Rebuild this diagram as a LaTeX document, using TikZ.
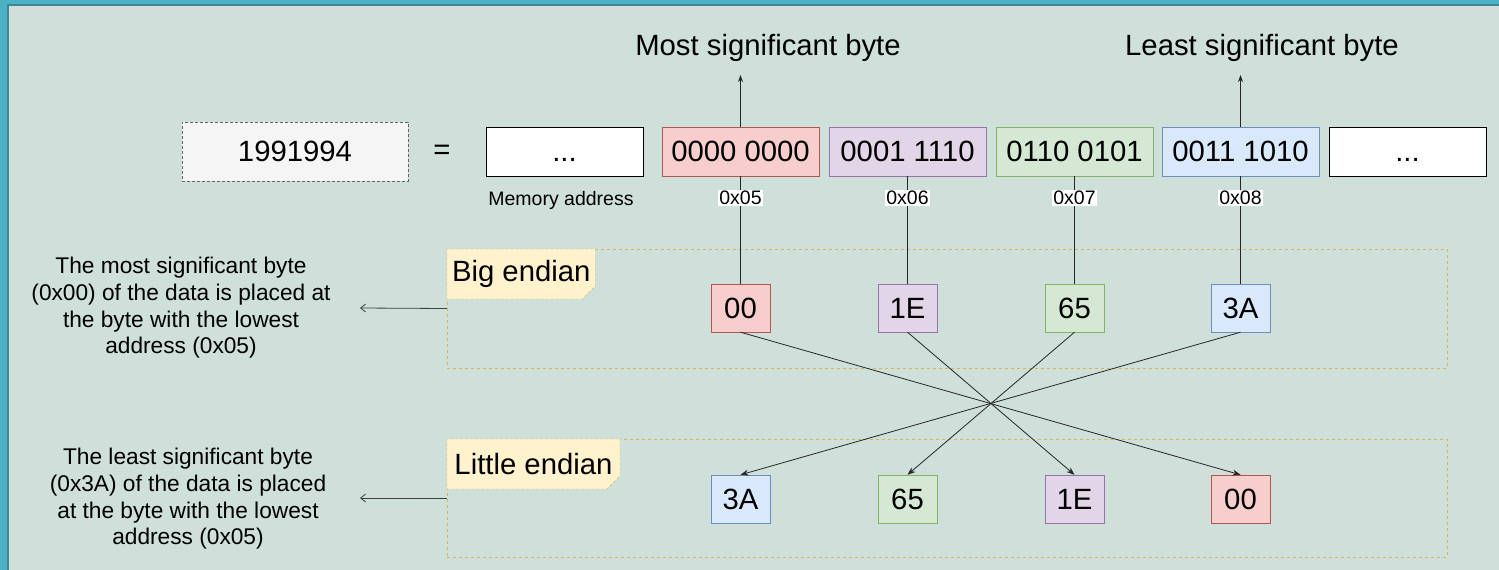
\documentclass[tikz,border=0pt]{standalone}
\usepackage{fontspec}
\setmainfont{Liberation Sans}
\usetikzlibrary{arrows.meta,shapes.misc}
\definecolor{bg}{HTML}{CFDFD9}
\definecolor{frame}{HTML}{4DB1C6}
\definecolor{frameedge}{HTML}{3E8797}
\definecolor{redfill}{HTML}{F8CECC}\definecolor{redline}{HTML}{B85450}
\definecolor{purfill}{HTML}{E1D5E7}\definecolor{purline}{HTML}{9673A6}
\definecolor{grnfill}{HTML}{D5E8D4}\definecolor{grnline}{HTML}{82B366}
\definecolor{blufill}{HTML}{DAE8FC}\definecolor{bluline}{HTML}{6C8EBF}
\definecolor{yelfill}{HTML}{FFF2CC}\definecolor{yelline}{HTML}{D6B656}
\begin{document}
\begin{tikzpicture}[x=1pt,y=-1pt,
  big/.style={font=\fontsize{29.3}{34}\selectfont},
  bytebox/.style={draw, minimum width=157pt, minimum height=49pt, inner sep=0pt, big},
  cell/.style={draw, minimum width=59pt, minimum height=48pt, inner sep=0pt, big},
  rd/.style={fill=redfill, draw=redline},
  pu/.style={fill=purfill, draw=purline},
  gr/.style={fill=grnfill, draw=grnline},
  bl/.style={fill=blufill, draw=bluline},
  wh/.style={fill=white, draw=black},
  addr/.style={fill=white, inner sep=1pt, font=\fontsize{19.5}{22}\selectfont},
  region/.style={draw=yelline, dash pattern=on 3pt off 3pt, minimum width=1000pt, inner sep=0pt},
  tag/.style={chamfered rectangle, chamfered rectangle corners=south east,
    chamfered rectangle xsep=5pt, chamfered rectangle ysep=8pt,
    fill=yelfill, draw=yelline, dash pattern=on 3pt off 2pt, minimum height=50pt,
    inner sep=0pt, anchor=north west, big},
  note/.style={align=center, font=\fontsize{22.7}{26.6}\selectfont},
  link/.style={draw=black!85, line width=0.8pt},
  cross/.style={draw=black!85, line width=0.8pt, -{Stealth[length=8pt,width=6pt]}},
  up/.style={draw=black!85, line width=0.8pt, -{Stealth[length=7pt,width=5pt]}},
  back/.style={draw=black!75, line width=0.8pt, -{Straight Barb[length=5pt,width=8pt]}}
]
\useasboundingbox (0,0) rectangle (1499,570);
% frame and canvas
\fill[frame] (0,0) rectangle (1499,570);
\fill[frameedge] (7,4) rectangle (1499,570);
\fill[bg] (8.5,6) rectangle (1499,570);

% value and memory row
\node[draw=black!60, fill=black!4, dash pattern=on 3pt off 2pt, minimum width=226pt,
  minimum height=59pt, big] (val) at (295,151.5) {1991994};
\node[big] (eq) at (442,152) {=};
\node[bytebox, wh] (m0) at (564.5,151.5) {\vphantom{0}...};
\node[bytebox, rd] (m1) at (740.5,151.5) {0000 0000};
\node[bytebox, pu] (m2) at (907.5,151.5) {0001 1110};
\node[bytebox, gr] (m3) at (1074.5,151.5) {0110 0101};
\node[bytebox, bl] (m4) at (1240.5,151.5) {0011 1010};
\node[bytebox, wh] (m5) at (1407.5,151.5) {\vphantom{0}...};
\node[font=\fontsize{19.5}{22}\selectfont] (memlbl) at (561,200) {Memory address};

% significance captions
\node[big] (msb) at (768,48) {Most significant byte};
\node[big] (lsb) at (1262,48) {Least significant byte};
\coordinate (msbtip) at (740.5,75);
\coordinate (lsbtip) at (1240.5,75);
\draw[up] (m1.north) -- (msbtip);
\draw[up] (m4.north) -- (lsbtip);

% big endian region
\node[region, minimum height=119pt] (bigreg) at (947,308.5) {};
\node[tag, minimum width=147pt] (bigtag) at (bigreg.north west) {Big endian};
\node[cell, rd] (b1) at (740.5,308) {00};
\node[cell, pu] (b2) at (907.5,308) {1E};
\node[cell, gr] (b3) at (1074.5,308) {65};
\node[cell, bl] (b4) at (1240.5,308) {3A};

% little endian region
\node[region, minimum height=118pt] (litreg) at (947,498) {};
\node[tag, minimum width=173pt] (littag) at (litreg.north west) {Little endian};
\node[cell, bl] (l1) at (740.5,499) {3A};
\node[cell, gr] (l2) at (907.5,499) {65};
\node[cell, pu] (l3) at (1074.5,499) {1E};
\node[cell, rd] (l4) at (1240.5,499) {00};

% address lines
\draw[link] (m1.south) -- node[addr, pos=0.2] (a5) {0x05} (b1.north);
\draw[link] (m2.south) -- node[addr, pos=0.2] (a6) {0x06} (b2.north);
\draw[link] (m3.south) -- node[addr, pos=0.2] (a7) {0x07} (b3.north);
\draw[link] (m4.south) -- node[addr, pos=0.2] (a8) {0x08} (b4.north);

% byte order reversal
\draw[cross] (b1.south) -- (l4.north);
\draw[cross] (b2.south) -- (l3.north);
\draw[cross] (b3.south) -- (l2.north);
\draw[cross] (b4.south) -- (l1.north);

% explanations
\node[note] (bignote) at (181,308) {The most significant byte\\(0x00) of the data is placed at\\the byte with the lowest\\address (0x05)};
\node[note] (litnote) at (188,499) {The least significant byte\\(0x3A) of the data is placed\\at the byte with the lowest\\address (0x05)};
\coordinate (bigend) at (360,308);
\coordinate (litend) at (360,498);
\draw[back] (bigreg.west) -- (bigend);
\draw[back] (litreg.west) -- (litend);
\end{tikzpicture}
\end{document}
